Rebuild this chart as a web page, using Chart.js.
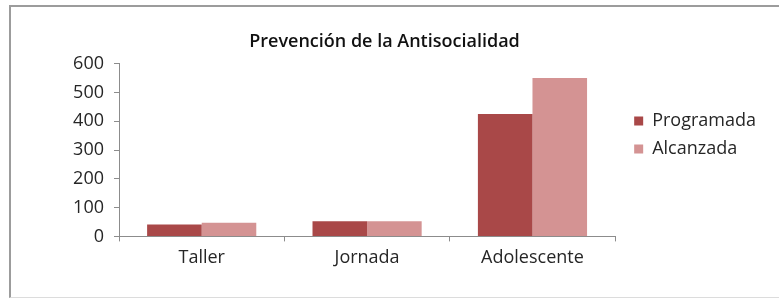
<!DOCTYPE html>
<html>
<head>
<meta charset="utf-8">
<script src="https://cdn.jsdelivr.net/npm/chart.js@4.4.1/dist/chart.umd.min.js"></script>
<style>
  html, body { margin: 0; padding: 0; background: #fff; }
  #wrap { position: relative; width: 779px; height: 299px; overflow: hidden; }
  #frame { position: absolute; left: 9px; top: 5px; width: 800px; height: 290px;
           border-left: 2px solid #9c9c9c; border-top: 2px solid #9c9c9c; border-bottom: 1px solid #dcdcdc; }
  #c { position: absolute; left: 0; top: 0; }
</style>
</head>
<body>
<div id="wrap">
  <div id="frame"></div>
  <canvas id="c" width="779" height="299"></canvas>
</div>
<script>
const categories = ["Taller", "Jornada", "Adolescente"];
const programada = [41, 53, 425];
const alcanzada = [47, 53, 550];
const seriesNames = ["Programada", "Alcanzada"];
const titleText = "Prevención de la Antisocialidad";
const yMin = 0, yMax = 600, yStep = 100;

const FONT = "'Open Sans', sans-serif";
const TEXT = "#262626";
const AXIS = "#8c8c8c";

// shift the legend box to the place it has in the reference
const legendShift = {
  id: 'legendShift',
  afterLayout(chart) {
    const lg = chart.legend;
    const dx = 9, dy = -18;
    lg.left += dx; lg.right += dx; lg.top += dy; lg.bottom += dy;
  }
};

new Chart(document.getElementById('c'), {
  type: 'bar',
  data: {
    labels: categories,
    datasets: [
      { label: seriesNames[0], data: programada, backgroundColor: '#A94848', borderWidth: 0 },
      { label: seriesNames[1], data: alcanzada, backgroundColor: '#D49393', borderWidth: 0 }
    ]
  },
  options: {
    responsive: false,
    animation: false,
    events: [],
    datasets: { bar: { categoryPercentage: 0.66, barPercentage: 1.0 } },
    layout: { padding: { left: 12, right: 22, top: 31, bottom: 24 } },
    plugins: {
      title: {
        display: true, text: titleText, color: '#111',
        font: { family: FONT, size: 18, weight: '600' },
        padding: { top: 0, bottom: 11 }
      },
      legend: {
        display: true, position: 'right', align: 'center',
        labels: { boxWidth: 9, boxHeight: 9, padding: 10, color: TEXT,
                  font: { family: FONT, size: 18 } }
      },
      tooltip: { enabled: false }
    },
    scales: {
      x: {
        grid: { display: true, drawOnChartArea: false, drawTicks: true, tickLength: 5, color: AXIS, offset: true },
        border: { display: true, color: AXIS, width: 1 },
        ticks: { color: TEXT, font: { family: FONT, size: 18 }, padding: 6 }
      },
      y: {
        min: yMin, max: yMax,
        afterFit: (s) => { s.width = 107; },
        grid: { display: true, drawOnChartArea: false, drawTicks: true, tickLength: 5, color: AXIS },
        border: { display: true, color: AXIS, width: 1 },
        ticks: { stepSize: yStep, color: TEXT, font: { family: FONT, size: 18 }, padding: 10 }
      }
    }
  },
  plugins: [legendShift]
});
</script>
</body>
</html>
